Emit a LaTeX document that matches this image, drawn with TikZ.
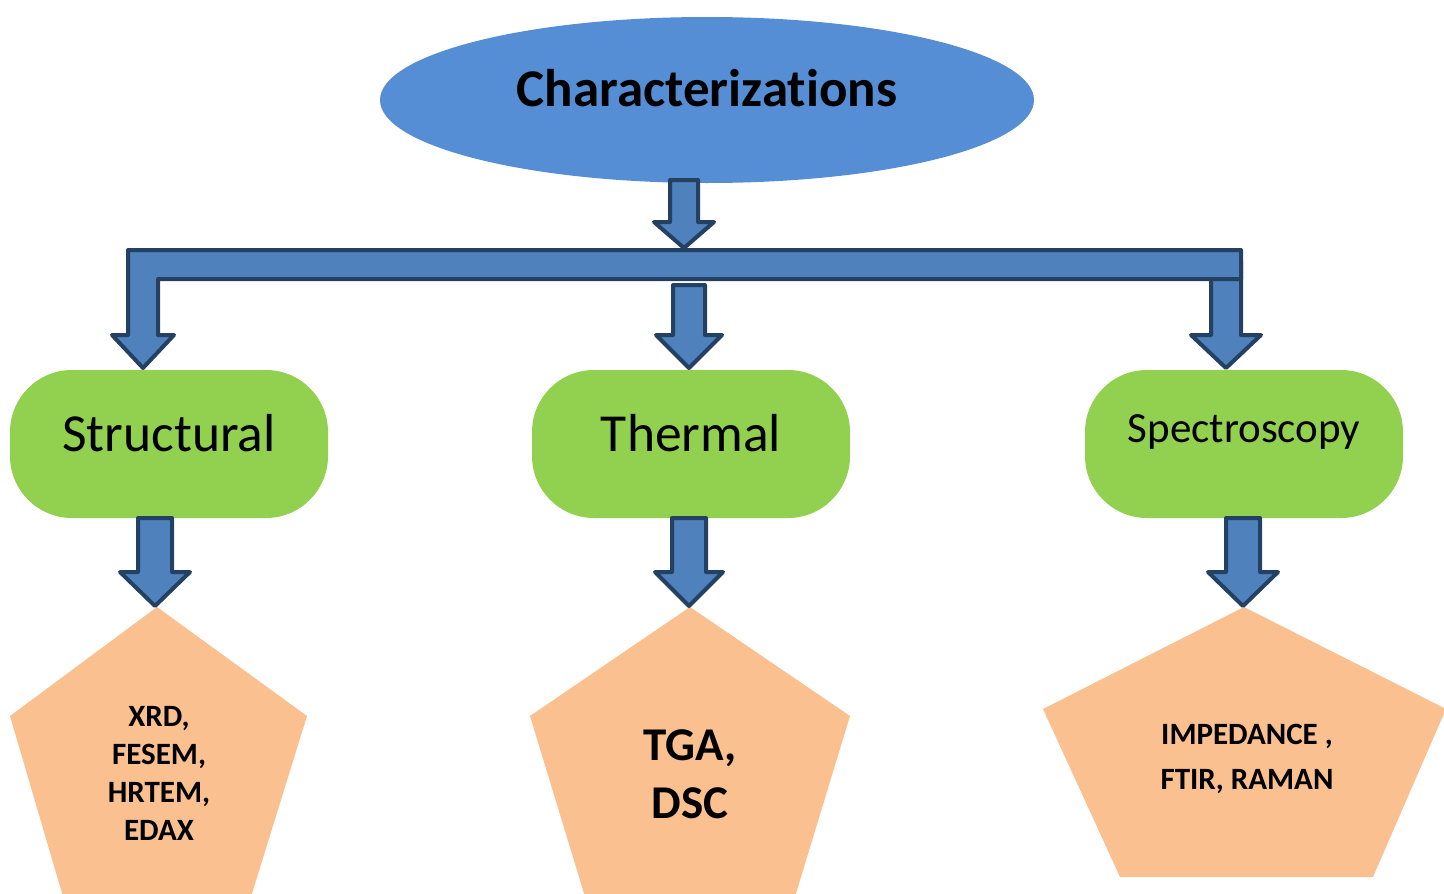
\documentclass[tikz,border=0pt]{standalone}
\usepackage{fontspec}
\setmainfont{Carlito}[Ligatures=NoCommon]
\usetikzlibrary{shapes.geometric}

\definecolor{topblue}{RGB}{85,142,213}
\definecolor{arrowfill}{RGB}{79,129,189}
\definecolor{arrowline}{RGB}{36,64,98}
\definecolor{leafgreen}{RGB}{146,208,80}
\definecolor{peach}{RGB}{250,192,144}

% block arrow pointing down: x, top y, tip y, shaft half width, head half width, head length
\newcommand\blockdown[6]{%
  \draw[arrowbody] (#1-#4,#2) -- (#1+#4,#2) -- (#1+#4,#3-#6) -- (#1+#5,#3-#6)
    -- (#1,#3) -- (#1-#5,#3-#6) -- (#1-#4,#3-#6) -- cycle;}

\begin{document}
\begin{tikzpicture}[x=1pt,y=-1pt,
  arrowbody/.style={fill=arrowfill,draw=arrowline,line width=4pt,line join=round},
  category/.style={rectangle,rounded corners=62pt,fill=leafgreen,minimum width=318pt,
    minimum height=148pt,font=\fontsize{53.5}{60}\selectfont,inner sep=0pt},
  methods/.style={font=\bfseries\fontsize{31}{38}\selectfont,align=center,inner sep=0pt}]
\useasboundingbox (0,0) rectangle (1444,894);
\clip (0,0) rectangle (1444,894);

% root
\node[ellipse,fill=topblue,minimum width=654pt,minimum height=166pt,inner sep=0pt,
  font=\bfseries\fontsize{53}{60}\selectfont] (root) at (707,100) {\raisebox{24pt}{Characterizations}};

% second level
\node[category] (struct) at (169,444) {\raisebox{22pt}{Structural}};
\node[category] (therm) at (691,444) {\raisebox{22pt}{Thermal}};
\node[category,font=\fontsize{43}{50}\selectfont] (spec) at (1244,444) {\raisebox{31pt}{Spectroscopy}};

% third level pentagons
\fill[peach] (157,607) -- (307,716) -- (250,900) -- (64,900) -- (10,716) -- cycle;
\fill[peach] (690,607) -- (850,716) -- (794,900) -- (586,900) -- (530,716) -- cycle;
\fill[peach] (1244,607) -- (1446,709) -- (1373,877) -- (1120,877) -- (1043,709) -- cycle;

\node[methods] (xrd) at (159,773) {XRD,\\FESEM,\\HRTEM,\\EDAX};
\node[methods,font=\bfseries\fontsize{47}{58}\selectfont] (tga) at (690,774) {TGA,\\DSC};
\node[methods,font=\bfseries\fontsize{31}{45}\selectfont] (imp) at (1247,759) {IMPEDANCE ,\\FTIR, RAMAN};

% branching arrows
\blockdown{684}{180}{248}{14}{30}{26}
\blockdown{1226}{262}{368}{15}{35}{33}
\draw[arrowbody] (128,250) -- (1241,250) -- (1241,279) -- (158,279) -- (158,335)
  -- (174,335) -- (143,368) -- (112,335) -- (128,335) -- cycle;
\blockdown{689}{285}{368}{16}{33}{33}

% arrows into the technique lists
\blockdown{155}{518}{606}{17}{35}{34}
\blockdown{689}{518}{606}{17}{34}{34}
\blockdown{1243}{518}{606}{17}{35}{34}
\end{tikzpicture}
\end{document}
